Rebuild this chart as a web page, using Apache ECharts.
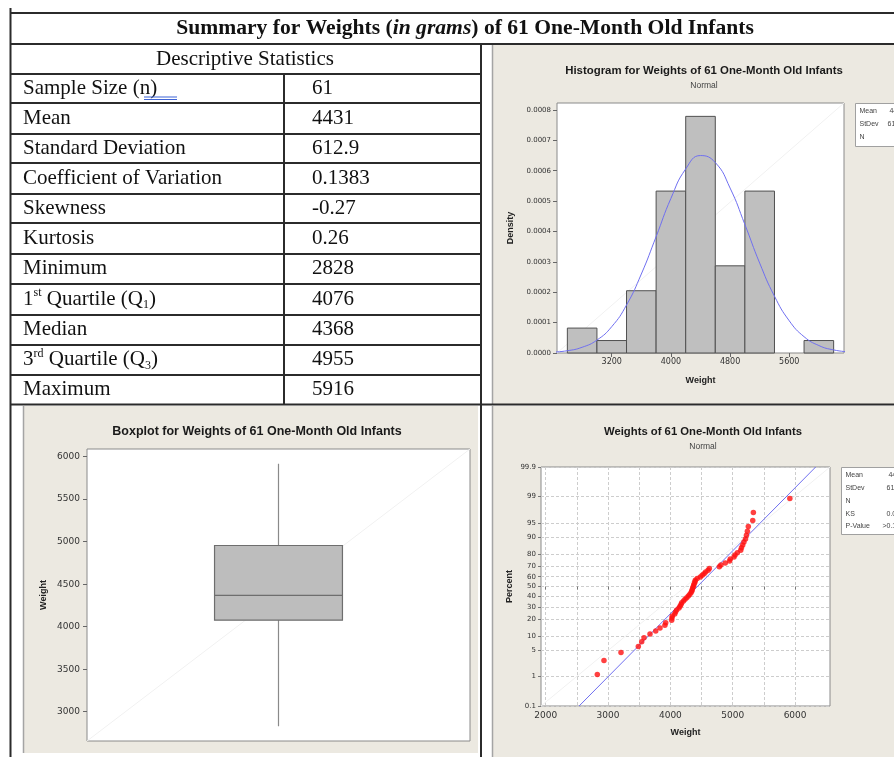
<!DOCTYPE html>
<html>
<head>
<meta charset="utf-8">
<title>Summary for Weights of 61 One-Month Old Infants</title>
<script src="https://cdn.jsdelivr.net/npm/echarts@6.0.0/dist/echarts.min.js"></script>
<style>
  html, body { margin: 0; padding: 0; background: #fff; }
  #chart { width: 894px; height: 757px; }
</style>
</head>
<body>
<div id="chart"></div>
<script>
// descriptive statistics table
var statLabels = [
  '{n|Sample Size (n)}',
  '{n|Mean}',
  '{n|Standard Deviation}',
  '{n|Coefficient of Variation}',
  '{n|Skewness}',
  '{n|Kurtosis}',
  '{n|Minimum}',
  '{n|1}{sup|st}{n| Quartile (Q}{sub|1}{n|)}',
  '{n|Median}',
  '{n|3}{sup|rd}{n| Quartile (Q}{sub|3}{n|)}',
  '{n|Maximum}'
];
var statValues = ['61', '4431', '612.9', '0.1383', '-0.27', '0.26', '2828', '4076', '4368', '4955', '5916'];

// histogram (density scale)
var binStart = [2600, 3000, 3400, 3800, 4200, 4600, 5000, 5400, 5800];
var binEnd = [3000, 3400, 3800, 4200, 4600, 5000, 5400, 5800, 6200];
var binDensity = [0.000082, 0.000041, 0.000205, 0.000533, 0.000779, 0.000287, 0.000533, 0, 0.000041];
var curveX = [2400, 2600, 2800, 3000, 3200, 3400, 3600, 3800, 4000, 4200, 4400, 4600, 4800, 5000, 5200, 5400, 5600, 5800, 6000, 6200, 6400];
var curveY = [0.0000027, 0.0000075, 0.0000189, 0.0000426, 0.0000867, 0.000158, 0.000260, 0.000383, 0.000509, 0.000606,
              0.000650, 0.000627, 0.000543, 0.000423, 0.000296, 0.000187, 0.000106, 0.0000537, 0.0000246, 0.0000101, 0.0000037];
var histTicksX = [3200, 4000, 4800, 5600];
var histTicksY = [0, 0.0001, 0.0002, 0.0003, 0.0004, 0.0005, 0.0006, 0.0007, 0.0008];

// boxplot: min, Q1, median, Q3, max
var boxStats = [2828, 4076, 4368, 4955, 5916];
var boxTicks = [3000, 3500, 4000, 4500, 5000, 5500, 6000];

// normal probability plot
var weights = [2828, 2935, 3208, 3486, 3540, 3577, 3673, 3765, 3834, 3912,
               3925, 4021, 4025, 4031, 4070, 4082, 4101, 4138, 4155, 4170,
               4182, 4210, 4235, 4262, 4288, 4310, 4330, 4342, 4350, 4358,
               4368, 4375, 4385, 4395, 4400, 4430, 4480, 4510, 4540, 4565,
               4605, 4625, 4785, 4810, 4880, 4950, 4960, 5020, 5037, 5074,
               5128, 5140, 5160, 5180, 5205, 5220, 5235, 5250, 5321, 5331, 5916];
var percents = [1.14, 2.77, 4.40, 6.03, 7.65, 9.28, 10.91, 12.54, 14.17, 15.80,
                17.43, 19.06, 20.68, 22.31, 23.94, 25.57, 27.20, 28.83, 30.46, 32.08,
                33.71, 35.34, 36.97, 38.60, 40.23, 41.86, 43.49, 45.11, 46.74, 48.37,
                50.00, 51.63, 53.26, 54.89, 56.51, 58.14, 59.77, 61.40, 63.03, 64.66,
                66.29, 67.92, 69.54, 71.17, 72.80, 74.43, 76.06, 77.69, 79.32, 80.94,
                82.57, 84.20, 85.83, 87.46, 89.09, 90.72, 92.35, 93.97, 95.60, 97.23, 98.86];
var fitWeights = [2536, 6330];
var fitPercents = [0.1, 99.9];
var probTicksX = [2000, 3000, 4000, 5000, 6000];
var probGridX = [2000, 2500, 3000, 3500, 4000, 4500, 5000, 5500, 6000];
var probTicksPct = [0.1, 1, 5, 10, 20, 30, 40, 50, 60, 70, 80, 90, 95, 99, 99.9];

var histLegend = [['Mean', '4431'], ['StDev', '612.9'], ['N', '61']];
var probLegend = [['Mean', '4431'], ['StDev', '612.9'], ['N', '61'], ['KS', '0.077'], ['P-Value', '>0.150']];

// inverse normal cdf (Acklam), used as the percent axis transform
function probit(p) {
  var a = [-3.969683028665376e+01, 2.209460984245205e+02, -2.759285104469687e+02, 1.383577518672690e+02, -3.066479806614716e+01, 2.506628277459239e+00];
  var b = [-5.447609879822406e+01, 1.615858368580409e+02, -1.556989798598866e+02, 6.680131188771972e+01, -1.328068155288572e+01];
  var c = [-7.784894002430293e-03, -3.223964580411365e-01, -2.400758277161838e+00, -2.549732539343734e+00, 4.374664141464968e+00, 2.938163982698783e+00];
  var d = [7.784695709041462e-03, 3.224671290700398e-01, 2.445134137142996e+00, 3.754408661907416e+00];
  var pl = 0.02425, q, r;
  if (p < pl) {
    q = Math.sqrt(-2 * Math.log(p));
    return (((((c[0]*q+c[1])*q+c[2])*q+c[3])*q+c[4])*q+c[5]) / ((((d[0]*q+d[1])*q+d[2])*q+d[3])*q+1);
  }
  if (p > 1 - pl) {
    q = Math.sqrt(-2 * Math.log(1 - p));
    return -(((((c[0]*q+c[1])*q+c[2])*q+c[3])*q+c[4])*q+c[5]) / ((((d[0]*q+d[1])*q+d[2])*q+d[3])*q+1);
  }
  q = p - 0.5; r = q * q;
  return (((((a[0]*r+a[1])*r+a[2])*r+a[3])*r+a[4])*r+a[5])*q / (((((b[0]*r+b[1])*r+b[2])*r+b[3])*r+b[4])*r+1);
}
function pz(pct) { return probit(pct / 100); }

var probZTicks = probTicksPct.map(pz);
var zMin = pz(0.1), zMax = pz(99.9);

var SERIF = '"Liberation Serif", "Times New Roman", serif';
var SANS = '"Liberation Sans", Arial, sans-serif';
var TICKF = '"DejaVu Sans", sans-serif';
var BEIGE = '#ECE9E1';
var INK = '#2b2b2b';

// ---------- table / panels drawn with graphic ----------
var g = [];
function hline(y, x1, x2) { g.push({type: 'line', z: 50, shape: {x1: x1, y1: y, x2: x2, y2: y}, style: {stroke: INK, lineWidth: 2}}); }
function vline(x, y1, y2) { g.push({type: 'line', z: 50, shape: {x1: x, y1: y1, x2: x, y2: y2}, style: {stroke: INK, lineWidth: 2}}); }

// beige panels
g.push({type: 'rect', z: -10, shape: {x: 492, y: 45, width: 402, height: 359}, style: {fill: BEIGE}});
g.push({type: 'rect', z: -10, shape: {x: 23, y: 406, width: 455, height: 347}, style: {fill: BEIGE}});
g.push({type: 'rect', z: -10, shape: {x: 492, y: 406, width: 402, height: 351}, style: {fill: BEIGE}});
g.push({type: 'line', z: -9, shape: {x1: 492.5, y1: 45, x2: 492.5, y2: 404}, style: {stroke: '#a4a4a4', lineWidth: 1.5}});
g.push({type: 'line', z: -9, shape: {x1: 23.5, y1: 406, x2: 23.5, y2: 753}, style: {stroke: '#a4a4a4', lineWidth: 1.5}});
g.push({type: 'line', z: -9, shape: {x1: 492.5, y1: 406, x2: 492.5, y2: 757}, style: {stroke: '#a4a4a4', lineWidth: 1.5}});

// frame
hline(13, 10, 894);
hline(44, 10, 894);
vline(10.5, 8, 757);
hline(74, 10, 481);
var rowLines = [103, 134, 163, 194, 223, 254, 284, 315, 345, 375];
rowLines.forEach(function (y) { hline(y, 10, 481); });
hline(404.5, 10, 894);
vline(284, 74, 404);
vline(481, 44, 757);

// main title
g.push({type: 'text', z: 60, x: 465, y: 28, style: {
  text: '{b|Summary for Weights (}{bi|in grams}{b|) of 61 One-Month Old Infants}',
  align: 'center', verticalAlign: 'middle',
  rich: {
    b: {fontFamily: SERIF, fontSize: 21.6, fontWeight: 'bold', fill: '#111'},
    bi: {fontFamily: SERIF, fontSize: 21.6, fontWeight: 'bold', fontStyle: 'italic', fill: '#111'}
  }
}});
g.push({type: 'text', z: 60, x: 245, y: 59, style: {
  text: 'Descriptive Statistics', fontFamily: SERIF, fontSize: 21, fill: '#111', align: 'center', verticalAlign: 'middle'
}});

var rowTops = [74].concat(rowLines);
var rowBottoms = rowLines.concat([404]);
statLabels.forEach(function (lab, i) {
  var cy = (rowTops[i] + rowBottoms[i]) / 2 - 0.5;
  g.push({type: 'text', z: 60, x: 23, y: cy, style: {
    text: lab, align: 'left', verticalAlign: 'middle',
    rich: {
      n: {fontFamily: SERIF, fontSize: 21, fill: '#111', lineHeight: 24},
      sup: {fontFamily: SERIF, fontSize: 12, fill: '#111', verticalAlign: 'top', lineHeight: 14},
      sub: {fontFamily: SERIF, fontSize: 12, fill: '#111', verticalAlign: 'bottom', lineHeight: 16}
    }
  }});
  g.push({type: 'text', z: 60, x: 312, y: cy, style: {
    text: statValues[i], fontFamily: SERIF, fontSize: 21, fill: '#111', align: 'left', verticalAlign: 'middle'
  }});
});
// spell-check style blue double underline under "(n)"
g.push({type: 'line', z: 61, shape: {x1: 144, y1: 97, x2: 177, y2: 97}, style: {stroke: '#3f64d6', lineWidth: 1.2}});
g.push({type: 'line', z: 61, shape: {x1: 144, y1: 99.5, x2: 177, y2: 99.5}, style: {stroke: '#3f64d6', lineWidth: 1.2}});

// chart titles
function title(x, y, txt, size, bold) {
  g.push({type: 'text', z: 60, x: x, y: y, style: {
    text: txt, fontFamily: SANS, fontSize: size, fontWeight: bold ? 'bold' : 'normal',
    fill: bold ? '#1a1a1a' : '#444', align: 'center', verticalAlign: 'middle'
  }});
}
title(704, 71, 'Histogram for Weights of 61 One-Month Old Infants', 11.4, true);
title(704, 86, 'Normal', 8.5, false);
title(257, 432, 'Boxplot for Weights of 61 One-Month Old Infants', 12.5, true);
title(703, 432, 'Weights of 61 One-Month Old Infants', 11.3, true);
title(703, 447, 'Normal', 8.5, false);

// stat boxes
function statBox(x, y, w, h, rows, valRight) {
  g.push({type: 'rect', z: 40, shape: {x: x, y: y, width: w, height: h}, style: {fill: '#fff', stroke: '#a0a0a0', lineWidth: 1}});
  rows.forEach(function (r, i) {
    var ty = y + 8 + i * 12.7;
    g.push({type: 'text', z: 41, x: x + 4, y: ty, style: {text: r[0], fontFamily: SANS, fontSize: 7, fill: '#444', align: 'left', verticalAlign: 'middle'}});
    g.push({type: 'text', z: 41, x: valRight, y: ty, style: {text: r[1], fontFamily: SANS, fontSize: 7, fill: '#444', align: 'right', verticalAlign: 'middle'}});
  });
}
statBox(855.5, 103.5, 60, 43, histLegend, 905);
statBox(841.5, 467.5, 70, 67, probLegend, 904);

// ---------- axes helpers ----------
var tickLabel = {fontFamily: TICKF, fontSize: 8, color: '#333'};
var nameStyle = {fontFamily: SANS, fontSize: 9, fontWeight: 'bold', color: '#222'};
function plain(v) { return String(v); }

var chart = echarts.init(document.getElementById('chart'), null, {renderer: 'canvas'});

chart.setOption({
  animation: false,
  backgroundColor: '#fff',
  graphic: {elements: g},
  grid: [
    {left: 557, top: 103, width: 287, height: 250, show: true, backgroundColor: '#fff', borderColor: '#8a8a8a', borderWidth: 1},
    {left: 87, top: 449, width: 383, height: 292, show: true, backgroundColor: '#fff', borderColor: '#8a8a8a', borderWidth: 1},
    {left: 541, top: 467, width: 289, height: 239, show: true, backgroundColor: '#fff', borderColor: '#8a8a8a', borderWidth: 1}
  ],
  xAxis: [
    {gridIndex: 0, type: 'value', min: 2460, max: 6340,
     axisLine: {show: false}, splitLine: {show: false},
     axisTick: {customValues: histTicksX, length: 4, lineStyle: {color: '#666'}},
     axisLabel: Object.assign({customValues: histTicksX, margin: 5, formatter: plain}, tickLabel),
     name: 'Weight', nameLocation: 'middle', nameGap: 23, nameTextStyle: nameStyle},
    {gridIndex: 1, type: 'value', min: 0, max: 1, show: false},
    {gridIndex: 2, type: 'value', min: 1925, max: 6560,
     axisLine: {show: false},
     splitLine: {show: true, lineStyle: {color: '#cdcdcd', type: [3, 2], width: 1}},
     axisTick: {customValues: probGridX, length: 3, lineStyle: {color: '#777'}},
     axisLabel: Object.assign({customValues: probTicksX, margin: 5, formatter: plain}, tickLabel, {fontSize: 9}),
     name: 'Weight', nameLocation: 'middle', nameGap: 22, nameTextStyle: nameStyle}
  ],
  yAxis: [
    {gridIndex: 0, type: 'value', min: 0, max: 0.000823,
     axisLine: {show: false}, splitLine: {show: false},
     axisTick: {customValues: histTicksY, length: 4, lineStyle: {color: '#666'}},
     axisLabel: Object.assign({customValues: histTicksY, margin: 6, formatter: function (v) { return v.toFixed(4); }}, tickLabel, {fontSize: 7}),
     name: 'Density', nameLocation: 'middle', nameGap: 42, nameTextStyle: nameStyle},
    {gridIndex: 1, type: 'value', min: 2655, max: 6090,
     axisLine: {show: false}, splitLine: {show: false},
     axisTick: {customValues: boxTicks, length: 4, lineStyle: {color: '#666'}},
     axisLabel: Object.assign({customValues: boxTicks, margin: 7, formatter: plain}, tickLabel, {fontSize: 9}),
     name: 'Weight', nameLocation: 'middle', nameGap: 39, nameTextStyle: nameStyle},
    {gridIndex: 2, type: 'value', min: zMin, max: zMax,
     axisLine: {show: false},
     splitLine: {show: true, lineStyle: {color: '#cdcdcd', type: [3, 2], width: 1}},
     axisTick: {customValues: probZTicks, length: 3, lineStyle: {color: '#777'}},
     axisLabel: Object.assign({customValues: probZTicks, margin: 5, formatter: function (v) {
       for (var i = 0; i < probZTicks.length; i++) {
         if (Math.abs(probZTicks[i] - v) < 1e-3) return String(probTicksPct[i]);
       }
       return '';
     }}, tickLabel, {fontSize: 7}),
     name: 'Percent', nameLocation: 'middle', nameGap: 27, nameTextStyle: nameStyle}
  ],
  series: [
    // faint reference diagonals
    {type: 'line', xAxisIndex: 0, yAxisIndex: 0, silent: true, symbol: 'none', z: 1,
     lineStyle: {color: '#f1f1f1', width: 1}, data: [[2460, 0], [6340, 0.000823]]},
    {type: 'line', xAxisIndex: 1, yAxisIndex: 1, silent: true, symbol: 'none', z: 1,
     lineStyle: {color: '#f1f1f1', width: 1}, data: [[0, 2655], [1, 6090]]},
    {type: 'line', xAxisIndex: 2, yAxisIndex: 2, silent: true, symbol: 'none', z: 1,
     lineStyle: {color: '#f1f1f1', width: 1}, data: [[1925, zMin], [6560, zMax]]},

    // histogram bars
    {type: 'custom', xAxisIndex: 0, yAxisIndex: 0, z: 2,
     data: binStart.map(function (s, i) { return [s, binEnd[i], binDensity[i]]; }),
     encode: {x: [0, 1], y: 2},
     renderItem: function (params, api) {
       if (!api.value(2)) return null;
       var p0 = api.coord([api.value(0), api.value(2)]);
       var p1 = api.coord([api.value(1), 0]);
       return {type: 'rect', shape: {x: p0[0], y: p0[1], width: p1[0] - p0[0], height: p1[1] - p0[1]},
               style: {fill: '#bfbfbf', stroke: '#505050', lineWidth: 1}};
     }},
    // fitted normal curve
    {type: 'line', xAxisIndex: 0, yAxisIndex: 0, smooth: true, symbol: 'none', z: 3,
     lineStyle: {color: '#6f6ff0', width: 1},
     data: curveX.map(function (x, i) { return [x, curveY[i]]; })},

    // boxplot
    {type: 'custom', xAxisIndex: 1, yAxisIndex: 1, z: 2,
     data: [[0.5].concat(boxStats)],
     encode: {x: 0, y: [1, 2, 3, 4, 5]},
     renderItem: function (params, api) {
       var cx = api.value(0), half = 0.167;
       var lo = api.coord([cx, api.value(1)]);
       var hi = api.coord([cx, api.value(5)]);
       var q1l = api.coord([cx - half, api.value(2)]);
       var q3r = api.coord([cx + half, api.value(4)]);
       var medL = api.coord([cx - half, api.value(3)]);
       var medR = api.coord([cx + half, api.value(3)]);
       return {type: 'group', children: [
         {type: 'line', shape: {x1: lo[0], y1: lo[1], x2: hi[0], y2: hi[1]}, style: {stroke: '#8a8a8a', lineWidth: 1.2}},
         {type: 'rect', shape: {x: q1l[0], y: q3r[1], width: q3r[0] - q1l[0], height: q1l[1] - q3r[1]},
          style: {fill: '#bdbdbd', stroke: '#6e6e6e', lineWidth: 1.2}},
         {type: 'line', shape: {x1: medL[0], y1: medL[1], x2: medR[0], y2: medR[1]}, style: {stroke: '#6e6e6e', lineWidth: 1.2}}
       ]};
     }},

    // probability plot fit line and points
    {type: 'line', xAxisIndex: 2, yAxisIndex: 2, symbol: 'none', z: 3,
     lineStyle: {color: '#6f6ff0', width: 1},
     data: fitWeights.map(function (w, i) { return [w, pz(fitPercents[i])]; })},
    {type: 'scatter', xAxisIndex: 2, yAxisIndex: 2, z: 4, symbolSize: 5.5,
     itemStyle: {color: '#ff1010'},
     data: weights.map(function (w, i) { return [w, pz(percents[i])]; })}
  ]
});
</script>
</body>
</html>
